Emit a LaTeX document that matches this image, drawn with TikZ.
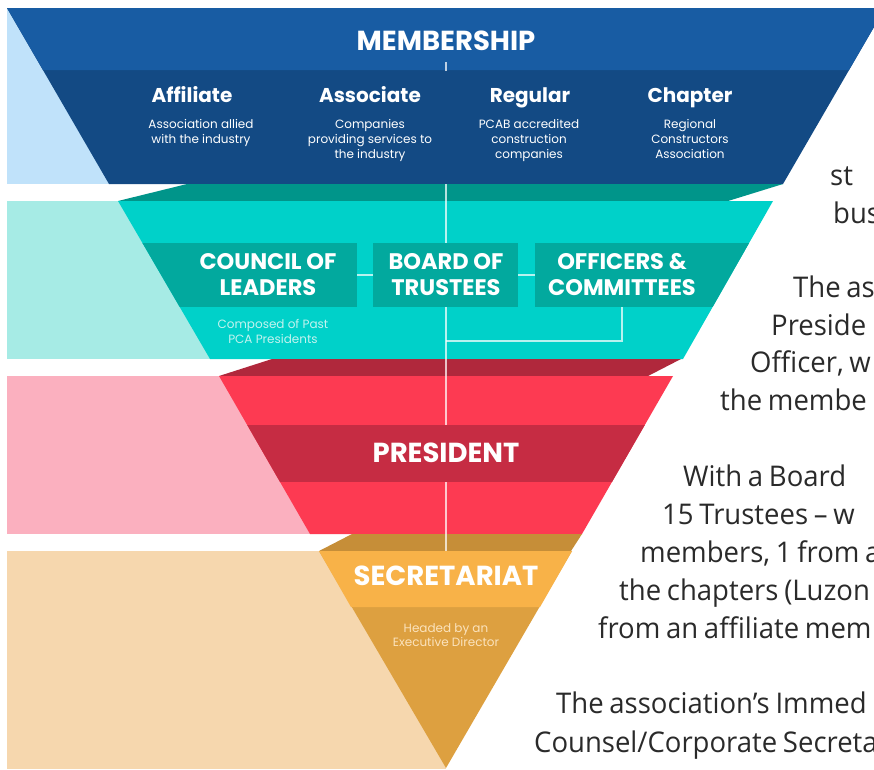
\documentclass[tikz,border=0pt]{standalone}
\usepackage{fontspec}
\setmainfont{Poppins}
\newfontfamily\opensans[WordSpace=0.8,FakeStretch=0.965]{Open Sans}
\definecolor{bgblue}{HTML}{C0E2FA}
\definecolor{blueTop}{HTML}{185CA3}
\definecolor{blueLow}{HTML}{134A84}
\definecolor{bgteal}{HTML}{A6EBE5}
\definecolor{tealDark}{HTML}{00958A}
\definecolor{teal}{HTML}{00D1C9}
\definecolor{tealBox}{HTML}{02A99E}
\definecolor{tealText}{HTML}{C3F3EF}
\definecolor{bgpink}{HTML}{FBB0BF}
\definecolor{redDark}{HTML}{B0283C}
\definecolor{redMain}{HTML}{FD3A52}
\definecolor{redStripe}{HTML}{C62C43}
\definecolor{bgbeige}{HTML}{F6D7AE}
\definecolor{goldDark}{HTML}{C68E38}
\definecolor{goldLight}{HTML}{F8B248}
\definecolor{goldMain}{HTML}{DDA040}
\definecolor{goldText}{HTML}{FBE3BD}
\definecolor{sidetext}{HTML}{2A2A2A}
\begin{document}
\begin{tikzpicture}[x=1pt,y=-1pt,
  conn/.style={draw=white,draw opacity=0.72,line width=1.5pt},
  boxfill/.style={fill=tealBox,draw=none,inner sep=0pt,minimum height=64pt},
  hdr/.style={text=white,font=\bfseries\fontsize{20}{24}\selectfont,inner sep=0pt,anchor=base},
  desc/.style={text=white,font=\fontsize{12}{15}\selectfont,align=center,inner sep=0pt},
  biglabel/.style={text=white,font=\bfseries\fontsize{22.5}{26}\selectfont,align=center,inner sep=0pt},
  title/.style={text=white,font=\bfseries\fontsize{27.5}{30}\selectfont,inner sep=0pt},
  side/.style={text=sidetext,font=\opensans\fontsize{28.5}{34}\selectfont,anchor=base west,inner sep=0pt}]
\useasboundingbox (0,0) rectangle (874,769);
\clip (0,0) rectangle (874,769);
\fill[white] (0,0) rectangle (874,769);
% background rectangles
\fill[bgblue] (7,8) rectangle (446,184);
\fill[bgteal] (7,201) rectangle (446,359);
\fill[bgpink] (7,376) rectangle (446,534);
\fill[bgbeige] (7,551) rectangle (446,769);
% blue band
\fill[blueLow] (7,8) -- (885,8) -- (783,184) -- (109,184) -- cycle;
\fill[blueTop] (7,8) -- (885,8) -- (849,70) -- (43,70) -- cycle;
% teal band
\fill[tealDark] (187,184) -- (783,184) -- (728,201) -- (118,201) -- cycle;
\fill[teal] (118,201) -- (773,201) -- (683,359) -- (210,359) -- cycle;
% red band
\fill[redDark] (272,359) -- (681,359) -- (648,376) -- (219,376) -- cycle;
\fill[redMain] (219,376) -- (673,376) -- (582,534) -- (310,534) -- cycle;
% gold band
\fill[goldDark] (352,534) -- (582,534) -- (571,551) -- (319,551) -- cycle;
\fill[goldMain] (319,551) -- (572,551) -- (446,768) -- cycle;
\fill[goldLight] (319,551) -- (572,551) -- (540,607) -- (351,607) -- cycle;
% connector coordinates
\coordinate (tickA) at (446,62);
\coordinate (tickB) at (446,71);
\coordinate (spineTop) at (446,184);
\coordinate (spineEnd) at (446,551);
\coordinate (offBottom) at (622,307);
\coordinate (bracket) at (446,341);
\draw[conn] (tickA) -- (tickB);
\draw[conn] (spineTop) -- (spineEnd);
\draw[conn] (offBottom) |- (bracket);
% teal boxes clipped to the band
\begin{scope}
\clip (118,201) -- (773,201) -- (683,359) -- (210,359) -- cycle;
\node[boxfill,minimum width=257pt] (council) at (228.5,275) {};
\node[boxfill,minimum width=145pt] (board) at (445.5,275) {};
\node[boxfill,minimum width=255pt] (officers) at (662.5,275) {};
\end{scope}
\draw[conn] (council.east) -- (board.west);
\draw[conn] (board.east) -- (officers.west);
% president stripe clipped to the red band
\begin{scope}
\clip (219,376) -- (673,376) -- (582,534) -- (310,534) -- cycle;
\fill[redStripe] (100,425) rectangle (800,482);
\end{scope}
% texts
\node[title] (membership) at (446,41) {MEMBERSHIP};
\node[hdr] (affiliate) at (192,102) {Affiliate};
\node[hdr] (associate) at (370,102) {Associate};
\node[hdr] (regular) at (530,102) {Regular};
\node[hdr] (chapter) at (690,102) {Chapter};
\node[desc,anchor=north] (affdesc) at (201,119) {Association allied\\with the industry};
\node[desc,anchor=north] (assdesc) at (370,119) {Companies\\providing services to\\the industry};
\node[desc,anchor=north] (regdesc) at (529,119) {PCAB accredited\\construction\\companies};
\node[desc,anchor=north] (chadesc) at (690,119) {Regional\\Constructors\\Association};
\node[biglabel] (councilT) at (268,275) {COUNCIL OF\\LEADERS};
\node[biglabel] (boardT) at (446,275) {BOARD OF\\TRUSTEES};
\node[biglabel] (officersT) at (622,275) {OFFICERS \&\\COMMITTEES};
\node[desc,text=tealText] (composed) at (273,331) {Composed of Past\\PCA Presidents};
\node[title] (president) at (446,453) {PRESIDENT};
\node[title] (secretariat) at (446,576) {SECRETARIAT};
\node[desc,text=goldText,font=\fontsize{12}{14}\selectfont] (headed) at (446,635) {Headed by an\\Executive Director};
% side paragraph (cut at the right edge)
\node[side] (s1) at (830,185) {st};
\node[side] (s2) at (833,223) {bus};
\node[side] (s3) at (793,297) {The as};
\node[side] (s4) at (771,335) {Preside};
\node[side] (s5) at (750,372) {Officer, w};
\node[side] (s6) at (720,410) {the membe};
\node[side] (s7) at (683,486) {With a Board};
\node[side] (s8) at (662,524) {15 Trustees – w};
\node[side] (s9) at (640,562) {members, 1 from a};
\node[side] (s10) at (619,600) {the chapters (Luzon};
\node[side] (s11) at (598,638) {from an affiliate mem};
\node[side] (s12) at (556,713) {The association’s Immed};
\node[side] (s13) at (534,752) {Counsel/Corporate Secreta};
\end{tikzpicture}
\end{document}
